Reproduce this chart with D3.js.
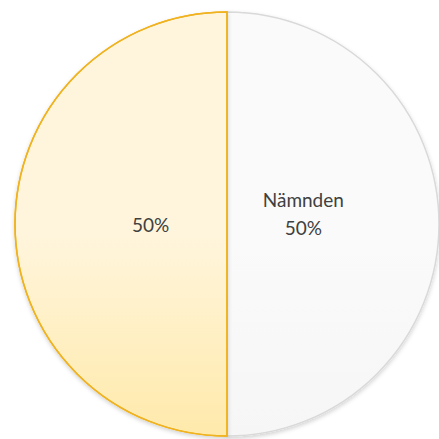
<!DOCTYPE html>
<html>
<head>
<meta charset="utf-8">
<script src="https://cdn.jsdelivr.net/npm/d3@7"></script>
<style>
  html, body { margin: 0; padding: 0; background: #fff; }
  svg { display: block; }
</style>
</head>
<body>
<div id="chart"></div>
<script>
// Two-slice pie, first slice starts at 12 o'clock and runs clockwise.

const categories = ["Nämnden", ""];
const values = [50, 50];

const W = 439, H = 439;
const cx = 227, cy = 224, R = 212;

const svg = d3.select("#chart").append("svg")
  .attr("width", W).attr("height", H);

const defs = svg.append("defs");

const gold = defs.append("linearGradient")
  .attr("id", "gold")
  .attr("gradientUnits", "userSpaceOnUse")
  .attr("x1", 0).attr("y1", cy - R).attr("x2", 0).attr("y2", cy + R);
gold.append("stop").attr("offset", "0%").attr("stop-color", "#fff5dc");
gold.append("stop").attr("offset", "50%").attr("stop-color", "#ffe9a8");
gold.append("stop").attr("offset", "100%").attr("stop-color", "#ffdb70");

const grey = defs.append("linearGradient")
  .attr("id", "grey")
  .attr("gradientUnits", "userSpaceOnUse")
  .attr("x1", 0).attr("y1", cy - R).attr("x2", 0).attr("y2", cy + R);
grey.append("stop").attr("offset", "0%").attr("stop-color", "#fafafa");
grey.append("stop").attr("offset", "100%").attr("stop-color", "#f2f2f2");

const shadow = defs.append("filter").attr("id", "shadow")
  .attr("x", "-10%").attr("y", "-10%").attr("width", "120%").attr("height", "120%");
shadow.append("feDropShadow")
  .attr("dx", 0).attr("dy", 2).attr("stdDeviation", 2)
  .attr("flood-color", "#000").attr("flood-opacity", 0.18);

const fills = ["url(#grey)", "url(#gold)"];
const strokes = ["#d9d9d9", "#f0b21e"];

const pie = d3.pie().sort(null).value(d => d)(values);
const arc = d3.arc().innerRadius(0).outerRadius(R);

const g = svg.append("g").attr("transform", `translate(${cx},${cy})`);

g.selectAll("path.slice")
  .data(pie)
  .join("path")
  .attr("class", "slice")
  .attr("d", arc)
  .attr("fill", (d, i) => fills[i])
  .attr("stroke", (d, i) => strokes[i])
  .attr("stroke-width", 1.5)
  .attr("filter", "url(#shadow)");

// redraw the gold outline so the divider sits on top
g.append("path")
  .attr("d", arc(pie[1]))
  .attr("fill", "none")
  .attr("stroke", strokes[1])
  .attr("stroke-width", 1.5);

const total = d3.sum(values);
const labelArc = d3.arc().innerRadius(R * 0.36).outerRadius(R * 0.36);

pie.forEach((d, i) => {
  const [lx, ly] = labelArc.centroid(d);
  const pct = Math.round(d.value / total * 100) + "%";
  const lines = categories[i] ? [categories[i], pct] : [pct];
  const t = g.append("text")
    .attr("x", lx).attr("text-anchor", "middle")
    .attr("font-family", "Lato, 'Open Sans', sans-serif")
    .attr("font-size", 19)
    .attr("fill", "#404040");
  const lh = 28;
  const y0 = ly + 8 - (lines.length - 1) * 25;
  lines.forEach((s, k) => {
    t.append("tspan").attr("x", lx).attr("y", y0 + k * lh).text(s);
  });
});
</script>
</body>
</html>
